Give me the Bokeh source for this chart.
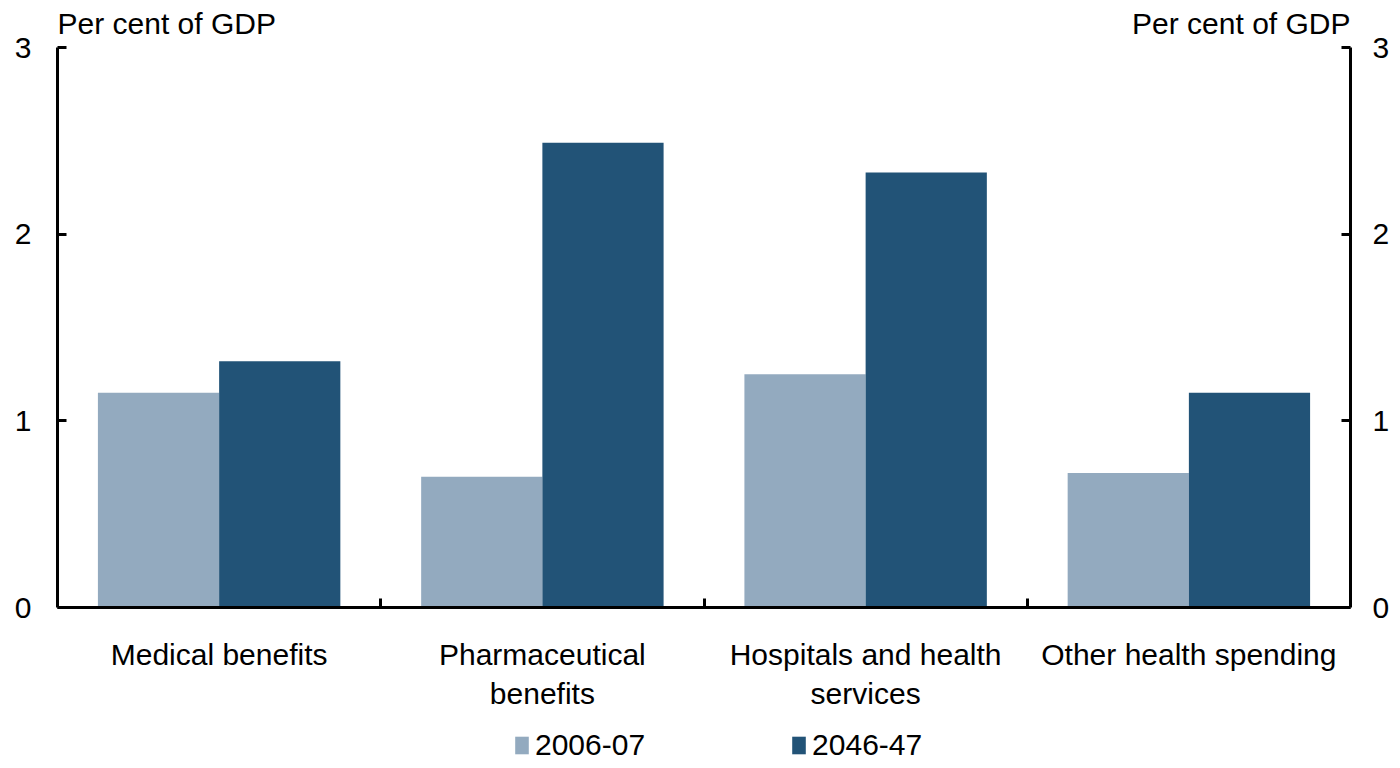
from bokeh.plotting import figure
from bokeh.layouts import column
from bokeh.models import (ColumnDataSource, LinearAxis, FixedTicker, Range1d, Label,
                          Legend, LegendItem)
from bokeh.transform import dodge
from bokeh.embed import file_html
from bokeh.resources import INLINE

categories = ["Medical benefits", "Pharmaceutical\nbenefits",
              "Hospitals and health\nservices", "Other health spending"]
series_names = ["2006-07", "2046-47"]
values_2006 = [1.15, 0.70, 1.25, 0.72]
values_2046 = [1.32, 2.49, 2.33, 1.15]
y_ticks = [0, 1, 2, 3]
axis_title = "Per cent of GDP"

LIGHT = "#93AABF"
DARK = "#225377"
FONT = "Liberation Sans"
FS = "30px"

pos = [i + 0.5 for i in range(len(categories))]
src = ColumnDataSource(dict(x=pos, a=values_2006, b=values_2046))

# frame extends above the value 3 so that the axis titles fit inside it
p = figure(width=1392, height=725, output_backend="svg", toolbar_location=None,
           x_range=Range1d(0, len(categories)), y_range=Range1d(0, 3.22),
           min_border_left=57, min_border_right=34, min_border_top=6,
           min_border_bottom=118)
p.outline_line_color = None
p.grid.visible = False
p.background_fill_color = "white"

bw = 0.375
r1 = p.vbar(x=dodge("x", -bw / 2, range=p.x_range), top="a", width=bw, source=src,
            fill_color=LIGHT, line_color=None)
r2 = p.vbar(x=dodge("x", bw / 2, range=p.x_range), top="b", width=bw, source=src,
            fill_color=DARK, line_color=None)

# x axis
xa = p.xaxis[0]
xa.ticker = FixedTicker(ticks=pos, minor_ticks=[1, 2, 3])
xa.major_label_overrides = {p_: c for p_, c in zip(pos, categories)}
xa.major_tick_in = 0
xa.major_tick_out = 0
xa.minor_tick_in = 9
xa.minor_tick_out = 0
xa.minor_tick_line_width = 3
xa.axis_line_width = 3
xa.major_label_text_font = FONT
xa.major_label_text_font_size = FS
xa.major_label_text_color = "black"
xa.major_label_standoff = 30

# y axes
ya = p.yaxis[0]
ya.ticker = FixedTicker(ticks=y_ticks)
ra = LinearAxis(ticker=FixedTicker(ticks=y_ticks))
p.add_layout(ra, "right")
for ax in (ya, ra):
    ax.bounds = (y_ticks[0], y_ticks[-1])
    ax.major_tick_in = 9
    ax.major_tick_out = 0
    ax.minor_tick_in = 0
    ax.minor_tick_out = 0
    ax.major_tick_line_width = 3
    ax.axis_line_width = 3
    ax.major_label_text_font = FONT
    ax.major_label_text_font_size = FS
    ax.major_label_text_color = "black"
ya.major_label_standoff = 26
ra.major_label_standoff = 22

# titles
p.add_layout(Label(x=0, y=y_ticks[-1], y_offset=24, text=axis_title,
                   text_align="left", text_baseline="alphabetic", text_font=FONT,
                   text_font_size=FS, text_color="black"))
p.add_layout(Label(x=len(categories), y=y_ticks[-1], y_offset=24, text=axis_title,
                   text_align="right", text_baseline="alphabetic", text_font=FONT,
                   text_font_size=FS, text_color="black"))

# legend strip below the chart (its renderers are hidden; only the legend shows)
lf = figure(width=1392, height=37, output_backend="svg", toolbar_location=None,
            x_range=Range1d(0, len(categories)), y_range=Range1d(0, 3),
            min_border_left=57, min_border_right=34, min_border_top=0,
            min_border_bottom=0, x_axis_location=None, y_axis_location=None)
lf.outline_line_color = None
lf.grid.visible = False
lf.background_fill_color = "white"
lf.border_fill_color = "white"
l1 = lf.vbar(x="x", top="a", width=bw, source=src, fill_color=LIGHT,
             line_color=None, visible=False)
l2 = lf.vbar(x="x", top="b", width=bw, source=src, fill_color=DARK,
             line_color=None, visible=False)
legend = Legend(items=[LegendItem(label=series_names[0], renderers=[l1]),
                       LegendItem(label=series_names[1], renderers=[l2])],
                orientation="horizontal", location=(456, 0),
                glyph_width=17, glyph_height=22, label_standoff=5, spacing=145,
                padding=0, margin=0, border_line_color=None,
                background_fill_alpha=0, inactive_fill_alpha=0,
                label_text_font=FONT, label_text_font_size=FS,
                label_text_color="black")
lf.add_layout(legend, "center")

layout = column(p, lf, spacing=0)
open("out.html", "w").write(file_html(layout, INLINE))
